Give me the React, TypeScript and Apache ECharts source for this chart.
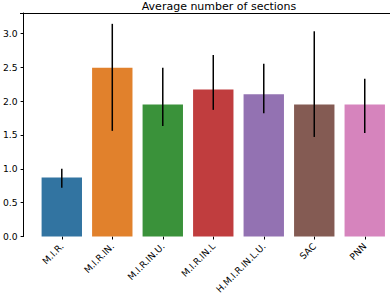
import React, { useEffect, useRef } from "react";
import * as echarts from "echarts";

const categories = ["M.I.R.", "M.I.R.IN.", "M.I.R.IN.U.", "M.I.R.IN.L", "H.M.I.R.IN.L.U.", "SAC", "PNN"];
const means = [0.87, 2.49, 1.95, 2.17, 2.1, 1.95, 1.95];
const errLow = [0.72, 1.56, 1.63, 1.87, 1.82, 1.47, 1.53];
const errHigh = [1.0, 3.14, 2.49, 2.68, 2.55, 3.03, 2.33];
const colors = ["#3274a1", "#e1812c", "#3a923a", "#c03d3e", "#9372b2", "#845b53", "#d684bd"];
const yTicks = [0, 0.5, 1.0, 1.5, 2.0, 2.5, 3.0];

const FONT = "DejaVu Sans";

export default function App() {
  const ref = useRef<HTMLDivElement>(null);
  useEffect(() => {
    if (!ref.current) return;
    const chart = echarts.init(ref.current, undefined, { renderer: "svg" });
    const slot = 362.2 / 7;
    chart.setOption({
      animation: false,
      backgroundColor: "#ffffff",
      title: {
        text: "Average number of sections",
        left: 214,
        top: -4,
        textAlign: "center",
        textStyle: { fontFamily: FONT, fontSize: 11, fontWeight: "normal", color: "#000" },
      },
      grid: { left: 20 + slot * 0.25, right: 390 - (20 + slot * 0.25 + 362.2), top: 13, bottom: 56 },
      xAxis: {
        type: "category",
        data: categories,
        axisLine: { show: false },
        axisTick: { show: true, alignWithLabel: true, length: 3, lineStyle: { color: "#000", width: 1 } },
        axisLabel: { rotate: 45, margin: 8, fontFamily: FONT, fontSize: 9.2, color: "#000", interval: 0 },
        splitLine: { show: false },
      },
      yAxis: {
        type: "value",
        min: 0,
        max: 3.3,
        interval: 0.5,
        offset: slot * 0.25,
        axisLine: { show: true, lineStyle: { color: "#000", width: 1 } },
        axisTick: { show: true, length: 3, lineStyle: { color: "#000", width: 1 } },
        axisLabel: {
          margin: 6,
          fontFamily: FONT,
          fontSize: 9.2,
          color: "#000",
          formatter: (v: number) => (yTicks.some((t) => Math.abs(t - v) < 1e-6) ? v.toFixed(1) : ""),
        },
        splitLine: { show: false },
      },
      graphic: [
        { type: "line", shape: { x1: 20, y1: 13.5, x2: 390, y2: 13.5 }, style: { stroke: "#000", lineWidth: 1 } },
      ],
      series: [
        {
          type: "bar",
          barWidth: "80%",
          data: means.map((v, i) => ({ value: v, itemStyle: { color: colors[i] } })),
        },
        {
          type: "custom",
          data: categories.map((_, i) => [i, errLow[i], errHigh[i]]),
          renderItem: (params: any, api: any) => {
            const x = api.value(0);
            const p1 = api.coord([x, api.value(1)]);
            const p2 = api.coord([x, api.value(2)]);
            return {
              type: "line",
              shape: { x1: p1[0], y1: p1[1], x2: p2[0], y2: p2[1] },
              style: { stroke: "#000", lineWidth: 1.5 },
            };
          },
          z: 5,
        },
      ],
    });
    return () => chart.dispose();
  }, []);
  return <div ref={ref} style={{ width: 390, height: 296, position: "absolute", left: 0, top: 0 }} />;
}
